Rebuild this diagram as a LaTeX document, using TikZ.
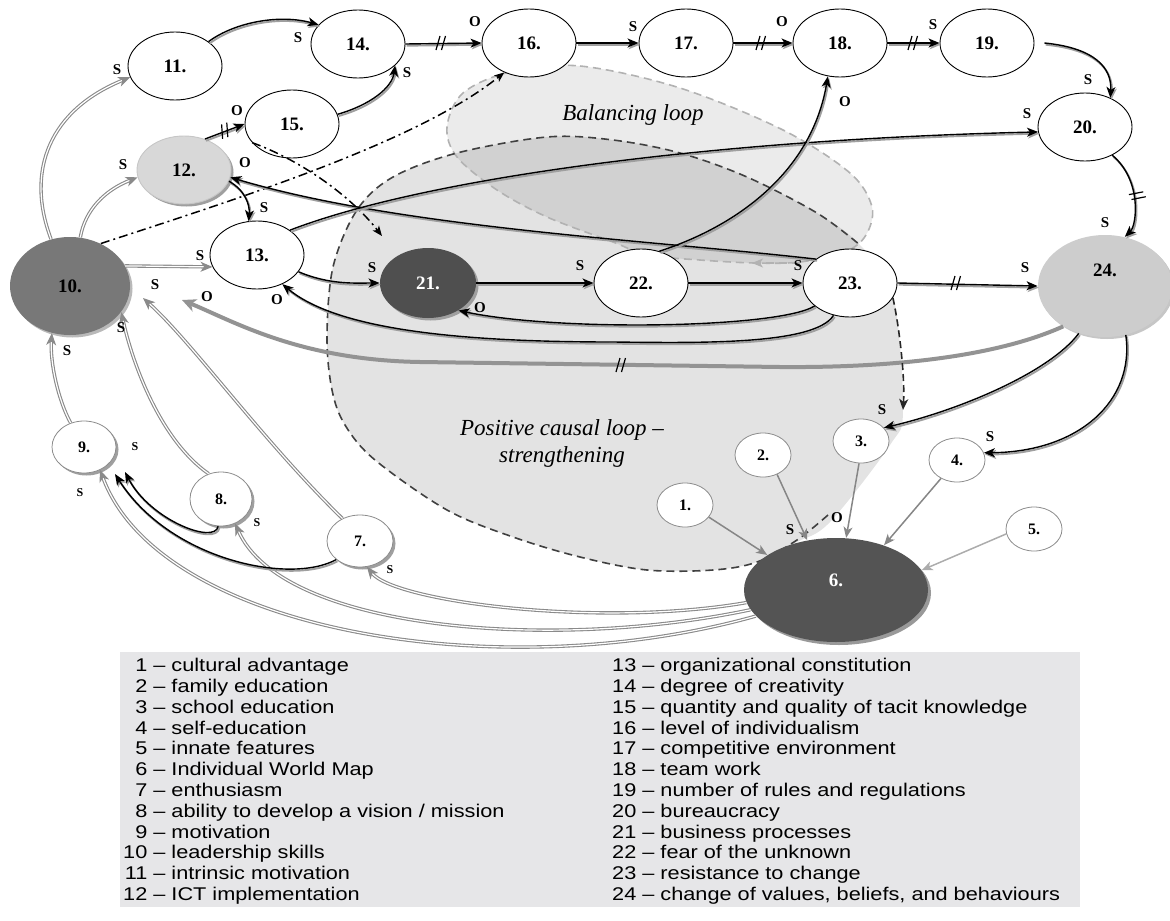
\documentclass[tikz,border=0pt]{standalone}
\usepackage{fontspec}
\setmainfont{Liberation Serif}
\newfontfamily\legfont[FakeStretch=1.18]{Liberation Sans}
\usetikzlibrary{arrows.meta,shapes.geometric,shadows}

\definecolor{cTen}{HTML}{787878}
\definecolor{cTwentyOne}{HTML}{4F4F4F}
\definecolor{cSix}{HTML}{545454}
\definecolor{cTwelve}{HTML}{D8D8D8}
\definecolor{cTwentyFour}{HTML}{CDCDCD}
\definecolor{legbg}{HTML}{E6E6E8}
\definecolor{edgegray}{HTML}{8A8A8A}

\newcommand\lbl[4][lab]{\node[#1] (#2) at (#3) {#4};}

\begin{document}
\begin{tikzpicture}[x=1pt,y=-1pt,
  big/.style={ellipse, draw=black, line width=0.9pt, fill=white,
    minimum width=94pt, minimum height=68pt, inner sep=0pt,
    font=\bfseries\fontsize{19}{19}\selectfont},
  small/.style={ellipse, draw=gray!90, line width=0.8pt, fill=white,
    minimum width=56pt, minimum height=44pt, inner sep=0pt,
    font=\bfseries\fontsize{16}{16}\selectfont},
  shad/.style={drop shadow={shadow xshift=2.5pt, shadow yshift=-2.5pt, fill=gray!75, opacity=1}},
  lab/.style={font=\bfseries\fontsize{15}{15}\selectfont, inner sep=0pt},
  labs/.style={font=\bfseries\fontsize{12}{12}\selectfont, inner sep=0pt},
  tipk/.tip={Stealth[length=11pt,width=9pt,inset=3pt]},
  bk/.style={draw=black, line width=1.4pt, -tipk,
    preaction={draw=gray!75, line width=1.9pt, transform canvas={shift={(1.2pt,-1.7pt)}}}},
  bkd/.style={draw=black!85, line width=1.6pt, dash pattern=on 7pt off 4pt, -tipk},
  gr/.style={draw=edgegray, double=white, double distance=1.2pt, line width=1.1pt,
    -{Stealth[length=12pt,width=10pt,inset=3.5pt]}},
  gl/.style={draw=gray!95, line width=1.5pt, -{Stealth[length=11pt,width=9pt,inset=3pt]}},
  glight/.style={draw=gray!65, line width=1.5pt, -{Stealth[length=11pt,width=9pt,inset=3pt]}},
  thk/.style={draw=gray!85, line width=4pt, -{Stealth[length=14pt,width=13pt,inset=4pt]}},
  dd/.style={draw=black, line width=1.5pt, dash pattern=on 9pt off 4pt on 2pt off 4pt,
    -{Stealth[length=10pt,width=8pt,inset=2.5pt]}},
  legtext/.style={anchor=north west, inner sep=0pt, font=\legfont\fontsize{18.4}{20.8}\selectfont},
  brk/.pic={\draw[line width=1.2pt, black] (-4pt,-7pt) -- (0pt,7pt) (1.5pt,-7pt) -- (5.5pt,7pt);}
]
\useasboundingbox (0,0) rectangle (1170,921);

% ---------- loop regions ----------
\fill[gray!22] plot[smooth cycle, tension=0.55] coordinates {
  (327,337) (333,267) (357,210) (393,177) (457,153) (547,137) (613,140)
  (680,153) (747,177) (817,213) (860,245) (893,295) (903,410) (890,445)
  (830,522) (797,542) (757,562) (713,570) (647,570) (580,557) (513,537)
  (447,510) (375,460) (345,425) (332,390)};
\filldraw[fill=black, fill opacity=0.08, draw=gray!60, line width=1.6pt,
  dash pattern=on 8pt off 5pt] plot[smooth cycle, tension=0.55] coordinates {
  (510,72) (580,66) (680,88) (783,130) (850,173) (872,207) (866,235)
  (845,252) (800,262) (755,263) (700,260) (647,255) (613,242) (547,217)
  (497,190) (457,157) (447,127) (463,93)};
\draw[draw=gray!60, line width=1.6pt, dash pattern=on 8pt off 5pt,
  -{Stealth[length=11pt,width=9pt,inset=3pt]}] (800,263) -- (752,263);
\draw[black!75, line width=1.6pt, dash pattern=on 8pt off 5pt]
  plot[smooth, tension=0.55] coordinates {
  (828,515) (797,540) (757,562) (713,570) (647,570) (580,557) (513,537)
  (447,510) (375,460) (345,425) (332,390) (327,337) (333,267) (357,210)
  (393,177) (457,153) (547,137) (613,140) (680,153) (747,177) (817,213)
  (860,245)};

\node[font=\itshape\fontsize{23}{23}\selectfont] (tbal) at (633,115) {Balancing loop};
\node[font=\itshape\fontsize{23}{27}\selectfont, align=center] (tpos) at (562,443)
  {Positive causal loop –\\strengthening};

% ---------- nodes ----------
\node[big] (n11) at (175,66) {11.};
\node[big] (n14) at (358,44) {14.};
\node[big] (n15) at (292,124) {15.};
\node[big, fill=cTwelve, draw=gray!45, shad] (n12) at (184,170) {12.};
\node[big] (n13) at (257,255) {13.};
\node[big, fill=cTen, draw=none, minimum width=120pt, minimum height=98pt,
  drop shadow={shadow xshift=2.5pt, shadow yshift=-2.5pt, fill=gray!55, opacity=1}] (n10) at (70,286) {10.};
\node[big] (n16) at (529,43) {16.};
\node[big] (n17) at (686,43) {17.};
\node[big] (n18) at (840,43) {18.};
\node[big] (n19) at (987,43) {19.};
\node[big] (n20) at (1085,127) {20.};
\node[big, fill=cTwentyOne, draw=none, text=white, minimum width=96pt, minimum height=70pt, shad] (n21) at (428,283) {21.};
\node[big] (n22) at (641,283) {22.};
\node[big] (n23) at (850,283) {23.};
\node[big, fill=cTwentyFour, draw=none, minimum width=134pt, minimum height=102pt,
  drop shadow={shadow xshift=2pt, shadow yshift=-2pt, fill=gray!45, opacity=1}] (n24) at (1105,286) {\raisebox{10pt}[0pt][0pt]{24.}};
\node[small] (n1) at (685,505) {1.};
\node[small] (n2) at (763,455) {2.};
\node[small] (n3) at (861,441) {3.};
\node[small] (n4) at (957,460) {4.};
\node[small] (n5) at (1034,529) {5.};
\node[big, fill=cSix, draw=none, text=white, minimum width=184pt, minimum height=104pt,
  drop shadow={shadow xshift=3pt, shadow yshift=-3pt, fill=gray!80, opacity=1}] (n6) at (836,590) {\raisebox{4pt}[0pt][0pt]{6.}};
\node[small, minimum width=66pt, minimum height=52pt, shad] (n7) at (360,541) {7.};
\node[small, minimum width=62pt, minimum height=54pt, shad] (n8) at (221,499) {8.};
\node[small, minimum width=64pt, minimum height=52pt, shad] (n9) at (84,447) {9.};

% free ends of arrows that stop short of a node
\coordinate (t10o) at (182,300);
\coordinate (t10a) at (143,298);
\coordinate (t3d) at (903,410);
\coordinate (t21) at (382,236);
\coordinate (t9a) at (125,472);
\coordinate (t9b) at (115,474);

% ---------- connectors ----------
% upper chain
\draw[bk] (n11.36) .. controls (235,22) and (280,14) .. (n14.154);
\draw[bk] (n15.12) .. controls (370,105) and (392,88) .. (n14.-30);
\draw[bk] (n12.56) -- (n15.180);
\pic[rotate=20] at (224,131) {brk};
\draw[bk] (n14.east) -- (n16.west);
\pic at (440,43) {brk};
\draw[bk] (n16.east) -- (n17.west);
\draw[bk] (n17.east) -- (n18.west);
\pic at (760,43) {brk};
\draw[bk] (n18.east) -- (n19.west);
\pic at (912,43) {brk};
\draw[bk] ([xshift=10pt]n19.east) .. controls (1095,48) and (1112,68) .. (n20.49);
\draw[bk] (n20.-46) .. controls (1142,180) and (1137,225) .. (n24.68);
\pic[rotate=-63] at (1137,195) {brk};

% from leadership skills
\draw[gr] (n10.112) .. controls (25,170) and (50,110) .. (n11.194);
\draw[gr] (n10.78) .. controls (85,210) and (105,190) .. (n12.189);
\draw[gr] (n10.20) -- (n13.195);
\draw[dd] (n10.54) .. controls (250,195) and (420,140) .. (n16.230);
\draw[dd] (n15.205) .. controls (300,160) and (350,195) .. (t21);

% middle
\draw[bk] (n12.-14) .. controls (245,190) and (250,205) .. (n13.104);
\draw[bk] (n23.145) .. controls (650,240) and (400,228) .. (n12.-9);
\draw[bk] (n13.37) .. controls (420,180) and (700,140) .. (n20.186);
\draw[bk] (n13.-22) .. controls (330,285) and (355,283) .. (n21.180);
\draw[bk] (n21.east) -- (n22.west);
\draw[bk] (n22.east) -- (n23.west);
\draw[bk] (n23.east) -- (n24.west);
\pic at (955,283) {brk};
\draw[bk] (n23.213) .. controls (780,328) and (560,332) .. (n21.-42);
\draw[bk] (n23.243) .. controls (815,345) and (700,343) .. (613,342)
  .. controls (450,342) and (335,328) .. (n13.-49);
\draw[bk] (n22.60) .. controls (740,225) and (812,170) .. (n18.250);

% from change of values
\draw[thk] (n24.224) .. controls (1000,355) and (900,368) .. (780,367) -- (420,362)
  .. controls (300,360) and (235,322) .. (t10o);
\pic at (620,365) {brk};
\draw[bk] (n24.241) .. controls (1050,372) and (960,410) .. (n3.30);
\draw[bk] (n24.-67) .. controls (1135,400) and (1080,452) .. (n4.15);
\draw[bkd] (n23.-19) .. controls (900,330) and (905,380) .. (t3d);

% into the world map
\draw[gl] (n1.-27) -- (n6.153);
\draw[gl] (n2.-54) -- (n6.120);
\draw[gl] (n3.265) -- (n6.79);
\draw[gl] (n4.229) -- (n6.43);
\draw[glight] (n5.190) -- (n6.13);

% out of the world map
\draw[gr] (n6.188) .. controls (600,628) and (395,602) .. (n7.-75);
\draw[gr] (n6.193) .. controls (550,652) and (282,630) .. (n8.-60);
\draw[gr] (n6.198) .. controls (500,688) and (160,632) .. (n9.-55);

% back to leadership skills
\draw[gr] (n9.119) .. controls (58,400) and (50,362) .. (n10.249);
\draw[gr] (n8.116) .. controls (160,440) and (132,362) .. (n10.-27);
\draw[gr] (n7.128) .. controls (262,440) and (192,342) .. (t10a);
\draw[bk] (n8.264) .. controls (215,545) and (150,520) .. (t9a);
\draw[bk] (n7.218) .. controls (290,585) and (170,560) .. (t9b);

% ---------- polarity labels ----------
\lbl{la1}{298,38}{S}
\lbl{la2}{117,70}{S}
\lbl{la3}{123,165}{S}
\lbl{la4}{237,111}{O}
\lbl{la5}{407,73}{S}
\lbl{la6}{264,208}{S}
\lbl{la7}{245,163}{O}
\lbl{la8}{1027,114}{S}
\lbl{la9}{200,256}{S}
\lbl{la10}{372,268}{S}
\lbl{la11}{580,266}{S}
\lbl{la12}{798,266}{S}
\lbl{la13}{1025,268}{S}
\lbl{la14}{480,308}{O}
\lbl{la15}{277,300}{O}
\lbl{la16}{845,102}{O}
\lbl{la17}{475,22}{O}
\lbl{la18}{633,27}{S}
\lbl{la19}{782,22}{O}
\lbl{la20}{933,25}{S}
\lbl{la21}{1088,80}{S}
\lbl{la22}{1105,223}{S}
\lbl{la23}{207,297}{O}
\lbl{la24}{882,410}{S}
\lbl{la25}{990,437}{S}
\lbl{la26}{837,518}{O}
\lbl{la27}{790,530}{S}
\lbl[labs]{la28}{390,570}{S}
\lbl[labs]{la29}{257,523}{S}
\lbl[labs]{la30}{80,493}{S}
\lbl{la31}{67,351}{S}
\lbl{la32}{121,328}{S}
\lbl{la33}{155,285}{S}
\lbl[labs]{la34}{135,447}{S}

% ---------- legend ----------
\fill[legbg] (120,652) rectangle (1080,907);
\node[legtext] (legL) at (123,657) {%
  \begin{tabular}{@{}r@{\ –\ }l@{}}
  1 & cultural advantage\\
  2 & family education\\
  3 & school education\\
  4 & self-education\\
  5 & innate features\\
  6 & Individual World Map\\
  7 & enthusiasm\\
  8 & ability to develop a vision / mission\\
  9 & motivation\\
  10 & leadership skills\\
  11 & intrinsic motivation\\
  12 & ICT implementation
  \end{tabular}};
\node[legtext] (legR) at (612,657) {%
  \begin{tabular}{@{}r@{\ –\ }l@{}}
  13 & organizational constitution\\
  14 & degree of creativity\\
  15 & quantity and quality of tacit knowledge\\
  16 & level of individualism\\
  17 & competitive environment\\
  18 & team work\\
  19 & number of rules and regulations\\
  20 & bureaucracy\\
  21 & business processes\\
  22 & fear of the unknown\\
  23 & resistance to change\\
  24 & change of values, beliefs, and behaviours
  \end{tabular}};
\end{tikzpicture}
\end{document}
